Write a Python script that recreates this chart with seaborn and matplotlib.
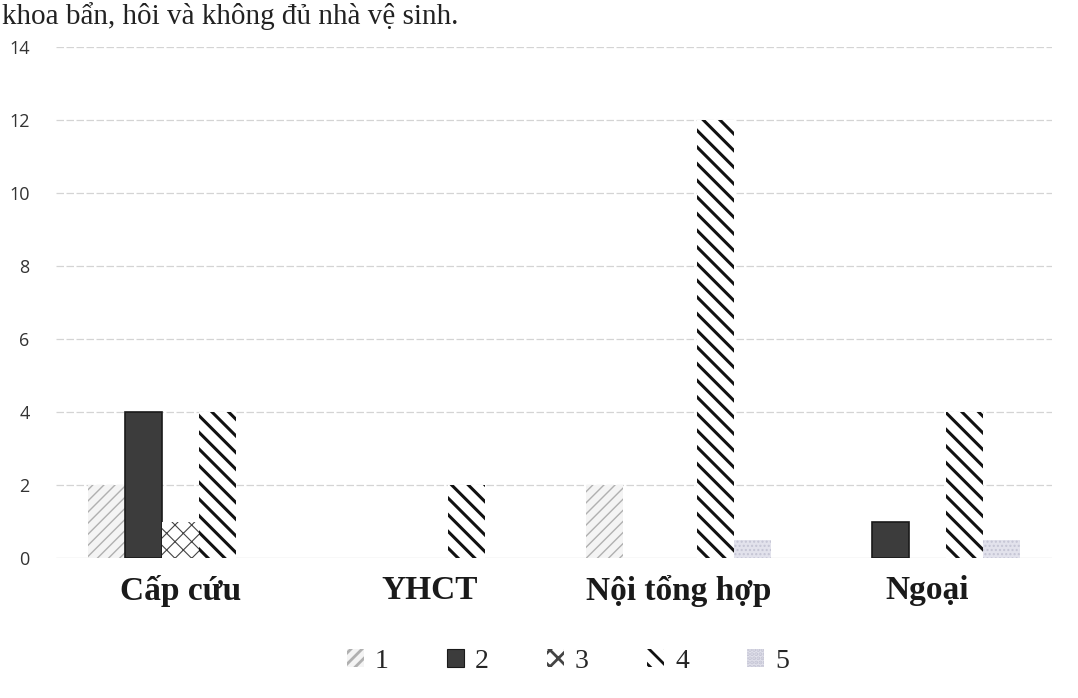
import matplotlib
matplotlib.use("Agg")
import matplotlib.pyplot as plt
import seaborn as sns
import pandas as pd
from matplotlib.patches import Patch

categories = ["Cấp cứu", "YHCT", "Nội tổng hợp", "Ngoại"]
series_names = ["1", "2", "3", "4", "5"]
s1 = [2, 0, 2, 0]
s2 = [4, 0, 0, 1]
s3 = [1, 0, 0, 0]
s4 = [4, 2, 12, 4]
s5 = [0, 0, 0.5, 0.5]
yticks = [0, 2, 4, 6, 8, 10, 12, 14]
header_text = "khoa bẩn, hôi và không đủ nhà vệ sinh."

series_values = [s1, s2, s3, s4, s5]
rows = []
for name, vals in zip(series_names, series_values):
    for c, v in zip(categories, vals):
        rows.append({"category": c, "series": name, "value": v})
df = pd.DataFrame(rows)

sns.set_theme(style="white")
plt.rcParams["font.family"] = ["DejaVu Sans"]
plt.rcParams["hatch.linewidth"] = 2.0

fig = plt.figure(figsize=(10.78, 6.98), dpi=100)
ax = fig.add_axes([56 / 1078, 1 - 558 / 698, (1052 - 56) / 1078, (558 - 47) / 698])

face = ["#f4f4f4", "#3c3c3c", "white", "white", "#e2e2ec"]
edge = ["#b0b0b0", "#1a1a1a", "#444444", "#111111", "#c4c4d4"]
hatch = ["///", None, "xx", "\\\\", "...."]
hlw = [1.0, 1.0, 0.8, 2.2, 1.0]

sns.barplot(data=df, x="category", y="value", hue="series", order=categories,
            hue_order=series_names, ax=ax, width=0.74, saturation=1,
            palette=face, legend=False, linewidth=0)

for i, cont in enumerate(ax.containers):
    for p in cont.patches:
        p.set_facecolor(face[i])
        p.set_edgecolor(edge[i])
        h = p.get_height()
        p.set_linewidth(1.2 if (i == 1 and h > 0) else 0)
        if hatch[i] and h > 0:
            p.set_hatch(hatch[i])
            if hasattr(p, "set_hatch_linewidth"):
                p.set_hatch_linewidth(hlw[i])

ax.set_ylim(0, 14)
ax.set_xlim(-0.5, 3.5)
ax.set_yticks(yticks)
ax.set_yticklabels([str(t) for t in yticks], fontsize=13, color="#333333",
                   family=["Open Sans", "DejaVu Sans"])
ax.tick_params(axis="y", length=0, pad=19)
ax.tick_params(axis="x", length=0, pad=12)
ax.set_xticks(range(len(categories)))
ax.set_xticklabels(categories, fontsize=24, fontweight="bold", color="#1a1a1a",
                   family=["Liberation Serif", "DejaVu Serif"])
ax.set_xlabel("")
ax.set_ylabel("")
for t in yticks[1:]:
    ax.axhline(t, color="#d4d4d4", lw=0.9, ls=(0, (6, 2)), zorder=0)
ax.axhline(0, color="#c8c8c8", lw=0.9, zorder=0)
for s in ax.spines.values():
    s.set_visible(False)
ax.set_axisbelow(True)

handles = []
for i in range(5):
    hp = Patch(facecolor=face[i], edgecolor=edge[i], hatch=hatch[i],
               linewidth=0.8 if i == 1 else 0)
    if hatch[i] and hasattr(hp, "set_hatch_linewidth"):
        hp.set_hatch_linewidth(hlw[i])
    handles.append(hp)
fig.legend(handles, series_names, loc="center", bbox_to_anchor=(568 / 1078, 1 - 661 / 698),
           ncol=5, frameon=False, handlelength=0.6, handleheight=0.6, handletextpad=0.4,
           columnspacing=2.1, prop={"family": "Liberation Serif", "size": 20})

fig.text(0.002, 1 - 24 / 698, header_text, fontsize=21, color="#222222",
         family=["Liberation Serif", "DejaVu Serif"], va="baseline", ha="left")

fig.savefig("out.png", dpi=100, facecolor="white")
